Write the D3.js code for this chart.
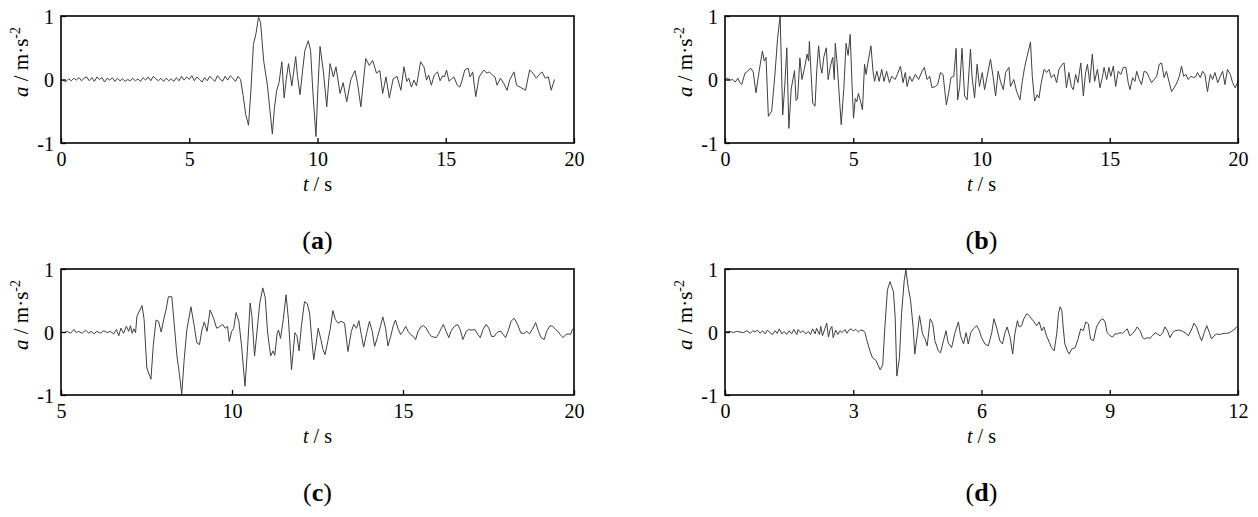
<!DOCTYPE html>
<html>
<head>
<meta charset="utf-8">
<script src="https://cdn.jsdelivr.net/npm/d3@7"></script>
<style>
  html, body { margin: 0; padding: 0; background: #fff; }
  svg { display: block; }
  .tick text { font-family: "Liberation Serif", Times, serif; font-size: 20px; fill: #000; }
  .tick line { stroke: #000; stroke-width: 1.3; }
</style>
</head>
<body>
<svg id="chart" width="1258" height="517"></svg>
<script>
// ---------------- DATA ----------------
const timeA = [0.0,0.1,0.2,0.3,0.4,0.5,0.6,0.7,0.8,0.9,1.0,1.1,1.2,1.3,1.4,1.5,1.6,1.7,1.8,1.9,2.0,2.1,2.2,2.3,2.4,2.5,2.6,2.7,2.8,2.9,3.0,3.1,3.2,3.3,3.4,3.5,3.6,3.7,3.8,3.9,4.0,4.1,4.2,4.3,4.4,4.5,4.6,4.7,4.8,4.9,5.0,5.1,5.2,5.3,5.4,5.5,5.6,5.7,5.8,5.9,6.0,6.1,6.2,6.3,6.4,6.5,6.6,6.7,6.8,6.9,
  7.0,7.1,7.2,7.31,7.4,7.5,7.6,7.7,7.78,7.9,8.05,8.24,8.32,8.41,8.5,8.61,8.7,8.78,8.87,9.0,9.15,9.22,9.32,9.42,9.51,9.64,9.73,9.82,9.94,10.02,10.10,10.23,10.36,10.49,10.62,10.72,10.88,11.0,11.14,11.3,11.46,11.56,11.69,11.88,12.02,12.15,12.3,12.43,12.54,12.67,12.80,12.95,13.1,13.25,13.37,13.48,13.56,13.66,13.76,13.86,14.02,14.15,14.25,14.33,14.44,14.55,14.68,14.78,14.88,14.95,15.03,15.13,15.22,15.32,15.45,15.55,15.64,15.74,15.87,15.95,16.05,16.17,16.3,16.48,16.6,16.7,16.82,16.92,17.0,17.13,17.26,17.39,17.5,17.66,17.76,17.9,18.11,18.27,18.4,18.53,18.63,18.75,18.88,19.0,19.11,19.24];
const accA = [0.00,-0.02,-0.03,0.01,-0.02,0.02,-0.01,0.03,-0.02,0.02,0.04,-0.02,0.03,-0.03,0.04,0.00,0.03,-0.04,0.02,-0.01,0.03,-0.03,0.02,-0.02,0.01,-0.03,0.00,-0.02,0.02,-0.02,0.01,-0.03,0.03,-0.01,0.04,-0.02,0.05,0.01,-0.02,0.02,-0.03,0.02,-0.02,0.01,-0.03,0.03,-0.02,0.05,-0.01,0.04,0.00,0.06,-0.02,0.04,0.00,-0.04,0.03,-0.02,0.05,0.01,-0.03,0.06,0.01,-0.03,0.05,-0.01,0.06,0.02,-0.03,0.05,
  0.00,-0.25,-0.55,-0.72,-0.2,0.55,0.72,0.98,0.9,0.3,-0.1,-0.86,-0.45,-0.17,-0.05,0.28,-0.29,0.0,0.25,-0.1,0.36,0.05,-0.24,0.15,0.46,0.61,0.46,-0.2,-0.90,-0.1,0.52,0.12,-0.43,0.25,0.04,0.2,-0.22,-0.05,-0.35,0.0,0.14,-0.06,-0.43,0.33,0.22,0.30,0.1,0.14,-0.22,0.04,-0.29,0.01,0.05,-0.17,0.20,-0.03,0.02,-0.12,-0.01,-0.1,0.28,0.20,-0.01,0.07,-0.09,0.07,0.12,-0.02,0.06,0.04,0.15,-0.03,0.01,0.04,-0.09,-0.12,-0.01,0.15,0.18,0.04,0.12,-0.27,0.04,0.15,0.1,0.12,0.07,0.04,-0.09,0.02,-0.06,-0.17,0.0,0.12,-0.09,-0.12,-0.17,0.15,0.1,0.02,0.07,0.12,0.02,0.04,-0.17,0.0];

const timeB = [0.0,0.1,0.2,0.3,0.4,0.5,0.58,0.65,0.78,0.88,1.0,1.1,1.21,1.33,1.46,1.53,1.6,1.69,1.82,1.95,2.05,2.15,2.2,2.25,2.33,2.41,2.49,2.58,2.71,2.77,2.83,2.92,3.0,3.1,3.2,3.26,3.29,3.35,3.42,3.51,3.58,3.65,3.72,3.78,3.85,3.95,4.02,4.11,4.2,4.26,4.3,4.37,4.43,4.53,4.63,4.72,4.8,4.88,4.95,5.01,5.08,5.14,5.2,5.27,5.36,5.44,5.5,5.57,5.69,5.77,5.83,5.92,6.01,6.11,6.2,6.3,6.41,6.5,6.63,6.72,6.84,6.94,
  7.03,7.10,7.20,7.29,7.42,7.55,7.68,7.77,7.88,7.98,8.07,8.2,8.29,8.4,8.5,8.63,8.72,8.81,8.92,9.01,9.07,9.15,9.24,9.34,9.44,9.57,9.63,9.73,9.83,9.92,10.03,10.12,10.22,10.35,10.45,10.55,10.65,10.74,10.85,10.94,11.07,11.13,11.26,11.37,11.5,11.59,11.68,11.78,11.91,11.98,12.07,12.17,12.24,12.33,12.44,12.54,12.63,12.72,12.83,12.93,13.02,13.15,13.22,13.31,13.41,13.5,
  13.58,13.67,13.76,13.87,13.97,14.06,14.13,14.22,14.32,14.41,14.52,14.62,14.71,14.78,14.88,14.97,15.04,15.14,15.23,15.33,15.43,15.53,15.63,15.72,15.79,15.89,15.98,16.05,16.15,16.24,16.34,16.45,16.54,16.63,16.73,16.83,16.93,17.02,17.12,17.21,17.32,17.41,17.51,17.62,17.71,17.80,17.88,17.97,18.06,18.16,18.27,18.36,18.42,18.53,18.62,18.71,18.81,18.92,19.01,19.10,19.21,19.31,19.40,19.49,19.59,19.70,19.79,19.89,19.98,20.0];
const accB = [0.0,0.02,-0.01,0.0,-0.04,0.02,-0.05,-0.08,0.10,0.13,0.18,0.12,-0.21,0.13,0.45,0.29,0.35,-0.58,-0.50,0.10,0.65,1.0,0.2,-0.56,-0.10,0.50,-0.77,-0.15,0.14,-0.33,-0.30,0.34,0.0,0.18,0.40,0.29,0.60,0.14,-0.37,-0.42,0.16,0.53,0.21,0.10,0.35,0.50,0.0,0.21,0.35,0.0,0.57,0.26,-0.10,-0.71,-0.16,0.57,0.38,0.71,-0.05,-0.61,-0.30,-0.35,-0.22,-0.32,-0.48,0.24,0.08,0.26,0.53,0.13,-0.03,0.13,-0.03,0.16,-0.03,0.13,-0.05,0.05,0.0,0.08,0.21,-0.05,
  0.11,-0.11,0.05,-0.03,0.08,0.0,0.13,0.19,0.0,0.05,-0.13,-0.11,-0.08,0.11,0.08,-0.40,-0.21,0.03,0.05,0.49,-0.32,-0.11,0.49,-0.26,-0.32,0.48,0.05,-0.29,0.24,-0.11,0.11,-0.16,0.05,0.32,0.05,-0.26,0.13,-0.03,-0.16,0.11,0.19,-0.11,0.0,-0.19,-0.32,-0.03,0.19,0.37,0.59,0.05,-0.34,-0.24,-0.29,-0.05,0.16,0.11,0.16,0.03,0.08,-0.05,0.16,0.24,0.26,-0.13,0.11,-0.11,
  -0.16,0.08,-0.05,0.26,-0.26,0.11,0.24,-0.05,0.40,-0.03,0.16,-0.13,0.03,0.19,0.0,0.19,0.05,0.21,-0.11,0.13,0.08,0.19,0.19,-0.05,-0.16,0.03,-0.03,0.13,0.0,-0.08,0.13,0.11,0.03,-0.05,0.0,0.05,0.24,0.26,0.03,0.13,-0.05,-0.19,-0.13,-0.05,0.05,0.21,0.05,0.08,0.0,0.05,0.03,0.05,0.11,0.03,0.13,0.08,-0.19,0.08,0.0,0.11,-0.05,0.05,0.13,-0.08,0.16,0.08,-0.05,-0.13,-0.05,0.0];

const timeC = [5.0,5.09,5.18,5.28,5.38,5.45,5.52,5.62,5.72,5.81,5.88,5.96,6.05,6.15,6.25,6.35,6.44,6.54,6.62,6.69,6.75,6.83,6.91,6.98,7.03,7.08,7.13,7.18,
  7.22,7.37,7.43,7.51,7.63,7.7,7.78,7.85,7.93,8.0,8.07,8.14,8.24,8.31,8.39,8.46,8.53,8.6,8.68,8.80,8.90,8.97,9.05,9.12,9.19,9.27,9.36,9.46,9.55,9.65,9.73,9.8,9.87,9.92,9.99,10.05,10.12,10.2,10.28,10.38,10.45,10.53,10.58,10.66,10.73,10.81,10.90,10.97,11.04,11.13,11.2,11.25,11.32,11.36,11.42,11.5,11.58,11.65,11.74,11.84,11.9,11.96,12.03,12.12,12.2,12.27,12.33,12.39,12.45,12.52,12.6,12.66,12.72,12.8,12.87,12.95,13.02,13.1,13.19,13.29,13.39,13.49,13.56,13.64,13.71,13.78,13.85,13.95,14.02,14.1,14.17,14.26,14.34,14.41,14.49,14.56,14.64,14.71,14.78,14.85,14.93,15.0,15.08,15.15,15.22,15.3,15.37,15.44,15.54,15.6,15.68,15.76,15.83,15.9,15.97,16.05,16.12,16.18,16.26,16.34,16.4,16.5,16.6,16.67,16.75,16.85,16.92,17.02,17.1,17.19,17.26,17.34,17.43,17.51,17.59,17.67,17.73,17.8,17.87,17.93,18.0,18.07,18.16,18.25,18.35,18.45,18.55,18.62,18.7,18.8,18.88,18.96,19.04,19.13,19.2,19.3,19.38,19.46,19.53,19.6,19.68,19.76,19.83,19.9,19.95,20.0];
const accC = [0.0,-0.01,0.01,-0.02,0.04,-0.01,0.01,-0.02,0.03,-0.02,0.01,-0.03,0.01,-0.02,0.02,-0.01,0.01,-0.03,0.04,-0.06,0.06,-0.02,0.09,0.01,0.10,-0.02,0.05,-0.01,
  0.25,0.42,0.2,-0.57,-0.75,-0.2,0.19,0.17,0.0,0.19,0.35,0.56,0.56,0.13,-0.38,-0.66,-0.99,-0.45,0.04,0.40,0.08,-0.17,-0.2,0.03,0.16,0.01,0.35,0.22,0.06,0.09,0.12,0.06,0.09,-0.15,0.01,0.06,0.31,0.17,-0.22,-0.86,-0.3,0.46,0.26,-0.38,0.0,0.45,0.70,0.55,0.0,-0.38,-0.3,-0.37,-0.02,0.03,-0.1,0.2,0.59,0.2,-0.60,-0.01,-0.06,-0.3,0.1,0.48,0.45,0.3,-0.1,-0.44,-0.22,0.06,-0.12,-0.28,-0.36,-0.15,0.04,0.34,0.2,0.14,0.17,0.14,-0.31,0.01,0.12,0.06,0.18,-0.04,-0.24,0.01,0.17,0.01,-0.23,-0.07,0.09,0.24,0.06,-0.22,-0.07,0.09,0.19,0.06,-0.04,0.01,0.09,0.01,-0.04,-0.07,-0.12,0.01,0.09,0.10,0.06,-0.02,-0.07,-0.08,-0.09,-0.02,0.06,0.12,0.01,-0.09,0.01,0.09,0.12,0.04,-0.12,0.01,0.04,0.03,0.04,-0.04,-0.09,0.04,0.12,0.06,-0.07,-0.07,-0.02,0.01,0.01,-0.04,-0.09,0.01,0.17,0.22,0.12,-0.02,-0.02,0.01,-0.03,0.06,0.15,0.01,-0.09,-0.12,0.01,0.10,0.09,0.04,0.01,-0.04,-0.09,-0.04,-0.03,-0.04,0.04,0.05];

const timeD = [0.0,0.12,0.20,0.27,0.35,0.43,0.51,0.59,0.65,0.70,0.76,0.82,0.88,0.94,0.99,1.05,1.11,1.17,1.22,1.27,1.33,1.38,1.44,1.50,1.56,1.61,1.68,1.71,1.77,1.83,1.89,1.95,2.00,2.05,2.11,2.14,2.21,2.24,2.28,2.34,2.38,2.42,2.46,2.5,2.53,2.59,2.64,2.69,2.74,2.81,2.85,2.90,2.95,3.0,3.06,3.12,3.17,3.24,3.28,
  3.31,3.39,3.45,3.53,3.63,3.69,3.74,3.80,3.86,3.94,3.98,4.02,4.08,4.13,4.19,4.23,4.29,4.34,4.40,4.44,4.50,4.55,4.62,4.68,4.73,4.80,4.86,4.91,4.99,5.04,5.11,5.17,5.22,5.3,5.38,5.46,5.51,5.58,5.64,5.69,5.75,5.81,5.89,5.95,6.0,6.08,6.16,6.24,6.29,6.35,6.43,6.49,6.55,6.6,6.67,6.73,6.78,6.84,6.88,6.94,6.99,7.06,7.12,7.17,7.23,7.29,7.35,7.41,7.46,7.52,7.59,7.64,7.70,7.76,7.80,7.84,7.88,7.91,7.95,8.01,8.05,8.11,8.19,8.26,8.32,8.38,8.44,8.5,8.55,8.62,8.69,8.77,8.84,8.89,8.94,9.01,9.07,9.12,9.18,9.24,9.3,9.36,9.41,9.47,9.53,9.59,9.64,9.71,9.77,9.82,9.88,9.94,10.0,10.06,10.11,10.18,10.24,10.29,10.35,10.41,10.47,10.53,10.61,10.68,10.76,10.84,10.92,10.97,11.03,11.1,11.15,11.21,11.27,11.33,11.38,11.44,11.5,11.56,11.62,11.7,11.77,11.85,11.93,11.98];
const accD = [0.0,0.01,-0.01,0.01,0.0,-0.01,0.02,-0.02,0.02,0.0,0.03,-0.02,0.02,-0.03,0.03,-0.01,-0.04,0.02,-0.02,0.05,-0.03,0.01,-0.04,0.02,-0.03,0.04,-0.04,0.04,-0.01,0.02,-0.03,0.01,-0.04,0.05,-0.03,0.06,-0.04,0.09,-0.06,0.06,0.14,-0.08,0.04,0.09,-0.09,0.03,-0.04,0.02,-0.01,0.04,-0.02,0.03,0.05,0.02,0.04,0.0,0.03,0.02,-0.02,
  -0.11,-0.30,-0.41,-0.45,-0.60,-0.52,0.08,0.67,0.80,0.64,0.24,-0.70,-0.41,0.29,0.80,0.99,0.69,0.51,0.08,-0.35,-0.03,0.26,-0.03,-0.11,-0.22,0.21,0.13,-0.14,-0.30,-0.33,-0.14,0.02,-0.17,-0.25,-0.01,0.16,-0.06,-0.19,-0.01,-0.19,-0.01,0.05,0.10,0.02,-0.09,-0.19,-0.22,-0.01,0.21,0.08,-0.14,-0.19,-0.01,0.08,-0.09,-0.35,-0.03,0.18,0.08,0.10,0.21,0.29,0.26,0.21,0.16,0.10,0.16,0.02,0.08,-0.06,-0.17,-0.25,-0.30,-0.03,0.29,0.40,0.34,0.08,-0.19,-0.30,-0.35,-0.27,-0.25,-0.11,0.05,0.02,0.16,0.13,-0.11,-0.14,0.08,0.18,0.21,0.16,-0.01,-0.06,-0.08,-0.03,-0.03,-0.01,-0.02,0.02,0.05,-0.06,-0.03,0.02,0.08,0.02,-0.09,-0.11,-0.09,-0.10,-0.06,-0.01,-0.03,-0.06,-0.01,0.08,0.02,-0.09,-0.01,0.02,0.03,0.02,-0.01,-0.06,0.05,0.14,0.08,-0.06,-0.14,-0.01,0.10,-0.01,-0.11,-0.06,-0.03,-0.04,-0.03,-0.02,-0.02,0.01,0.05,0.09];

const xTicksA = [0, 5, 10, 15, 20];
const xTicksB = [0, 5, 10, 15, 20];
const xTicksC = [5, 10, 15, 20];
const xTicksD = [0, 3, 6, 9, 12];
const yTicks = [-1, 0, 1];
const panelLabels = ["(a)", "(b)", "(c)", "(d)"];

// ---------------- LAYOUT ----------------
const panels = [
  { t: timeA, a: accA, dom: [0, 20], ticks: xTicksA, label: panelLabels[0], left: 61,  right: 574,  top: 16,  bottom: 143 },
  { t: timeB, a: accB, dom: [0, 20], ticks: xTicksB, label: panelLabels[1], left: 725, right: 1238, top: 16,  bottom: 143 },
  { t: timeC, a: accC, dom: [5, 20], ticks: xTicksC, label: panelLabels[2], left: 61,  right: 574,  top: 269, bottom: 395 },
  { t: timeD, a: accD, dom: [0, 12], ticks: xTicksD, label: panelLabels[3], left: 725, right: 1238, top: 269, bottom: 395 }
];

const svg = d3.select("#chart");
const serif = '"Liberation Serif", Times, serif';
const fmt = d => String(d);   // plain hyphen-minus like the reference

panels.forEach(p => {
  const x = d3.scaleLinear().domain(p.dom).range([p.left, p.right]);
  const y = d3.scaleLinear().domain([-1, 1]).range([p.bottom, p.top]);
  const g = svg.append("g");

  const pts = p.t.map((tv, i) => [tv, p.a[i]]);
  g.append("path")
    .datum(pts)
    .attr("fill", "none")
    .attr("stroke", "#404040")
    .attr("stroke-width", 1)
    .attr("stroke-linejoin", "round")
    .attr("d", d3.line().x(d => x(d[0])).y(d => y(d[1])));

  const xa = g.append("g").attr("transform", `translate(0,${p.bottom})`)
    .call(d3.axisBottom(x).tickValues(p.ticks).tickFormat(fmt).tickSizeInner(-5).tickSizeOuter(0).tickPadding(9));
  xa.select(".domain").remove();
  const ya = g.append("g").attr("transform", `translate(${p.left},0)`)
    .call(d3.axisLeft(y).tickValues(yTicks).tickFormat(fmt).tickSizeInner(-5).tickSizeOuter(0).tickPadding(7));
  ya.select(".domain").remove();
  ya.selectAll(".tick text").attr("dy", "0.36em");

  g.append("rect")
    .attr("x", p.left).attr("y", p.top)
    .attr("width", p.right - p.left).attr("height", p.bottom - p.top)
    .attr("fill", "none").attr("stroke", "#000").attr("stroke-width", 1.6);

  const cx = (p.left + p.right) / 2;

  const xt = g.append("text")
    .attr("x", cx).attr("y", p.bottom + 48)
    .attr("text-anchor", "middle")
    .attr("font-family", serif).attr("font-size", 20);
  xt.append("tspan").attr("font-style", "italic").text("t");
  xt.append("tspan").text(" / s");

  const yt = g.append("text")
    .attr("transform", `translate(${p.left - 33},${p.top + 46}) rotate(-90)`)
    .attr("text-anchor", "middle")
    .attr("font-family", serif).attr("font-size", 21);
  yt.append("tspan").attr("font-style", "italic").text("a");
  yt.append("tspan").text(" / m·s");
  yt.append("tspan").attr("font-size", 14).attr("dy", -8).text("-2");

  const pl = g.append("text")
    .attr("x", cx).attr("y", p.bottom + 106)
    .attr("text-anchor", "middle")
    .attr("font-family", serif).attr("font-size", 26);
  pl.append("tspan").text("(");
  pl.append("tspan").attr("font-weight", "bold").text(p.label.slice(1, -1));
  pl.append("tspan").text(")");
});
</script>
</body>
</html>
